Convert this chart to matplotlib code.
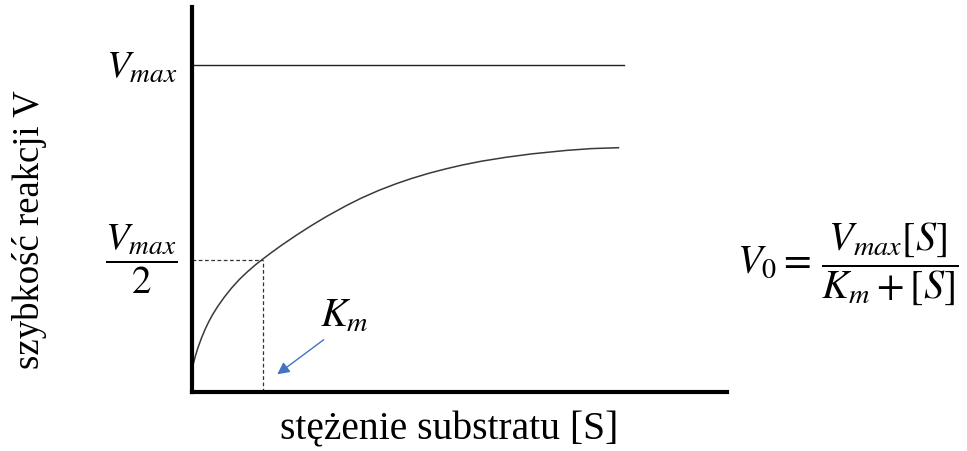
import matplotlib
matplotlib.use("Agg")
import matplotlib.pyplot as plt
import matplotlib.transforms as mtransforms

plt.rcParams["mathtext.fontset"] = "stix"

# substrate concentration [S] and reaction rate V (arbitrary units)
s_values = [0, 1, 2, 4, 6.5, 10, 13.5, 17, 21, 26.5, 33, 40, 48, 56, 64, 71,
            80, 90, 105, 120, 135, 155, 170, 188, 205, 220, 238, 255, 270, 290,
            315, 341, 375, 400, 427]
v_values = [16.8, 23.8, 28.8, 36.4, 44.4, 54, 62.4, 69.8, 77.2, 86, 95.1, 103.9, 112.7,
            120.3, 127.2, 132.7, 139.5, 146.7, 156.9, 166.5, 175.5, 186.5, 194, 201.9,
            208.4, 213.5, 218.9, 223.3, 226.8, 230.8, 234.8, 238.2, 241.6, 243.4, 244.3]

v_max = 327
v_half = 132
k_m = 71.5
s_end = 432.5

y_tick_labels = [r"$\dfrac{V_{max}}{2}$", r"$V_{max}$"]
x_label = "stężenie substratu [S]"
y_label = "szybkość reakcji V"
equation = r"$V_0 = \,\dfrac{V_{max}[S]}{K_m+[S]}$"

W, H = 967, 451
fig = plt.figure(figsize=(W / 100, H / 100), dpi=100)
ax = fig.add_axes([191.5 / W, (H - 392) / H, (727 - 191.5) / W, (392 - 7) / H])
ax.set_xlim(0, 535.5)
ax.set_ylim(0, 385)

# curve and the Vmax plateau
ax.plot(s_values, v_values, color="#3a3a3a", lw=1.1)
ax.plot([0, s_end], [v_max, v_max], color="#222222", lw=1.0)

# Km guides
ax.plot([0, k_m], [v_half, v_half], color="#333333", lw=0.9, ls=(0, (3, 2)))
ax.plot([k_m, k_m], [0, v_half], color="#333333", lw=0.9, ls=(0, (3, 2)))

ax.annotate("", xy=(83.5, 16), xytext=(134.5, 54),
            arrowprops=dict(arrowstyle="-|>", color="#4472C4", lw=1.0, mutation_scale=18))
ax.text(129, 65, r"$K_m$", fontsize=29, ha="left", va="baseline")

for side in ["top", "right"]:
    ax.spines[side].set_visible(False)
for side in ["left", "bottom"]:
    ax.spines[side].set_linewidth(3.0)
    ax.spines[side].set_color("black")

ax.set_xticks([])
ax.set_yticks([])

# y labels at Vmax/2 and Vmax
trans = mtransforms.blended_transform_factory(ax.transAxes, ax.transData)
ax.text(-0.026, v_half + 1, y_tick_labels[0], fontsize=28, ha="right", va="center",
        transform=trans)
ax.text(-0.026, v_max - 2, y_tick_labels[1], fontsize=28, ha="right", va="center",
        transform=trans)

fig.text(449 / W, 1 - 430 / H, x_label, fontsize=28.5, family="Liberation Serif",
         ha="center", va="center")
fig.text(30 / W, 1 - 230 / H, y_label, fontsize=26.5, family="Liberation Serif",
         ha="center", va="center", rotation=90)
fig.text(848 / W, 1 - 264 / H, equation, fontsize=29, ha="center", va="center")

fig.savefig("out.png", dpi=100)
